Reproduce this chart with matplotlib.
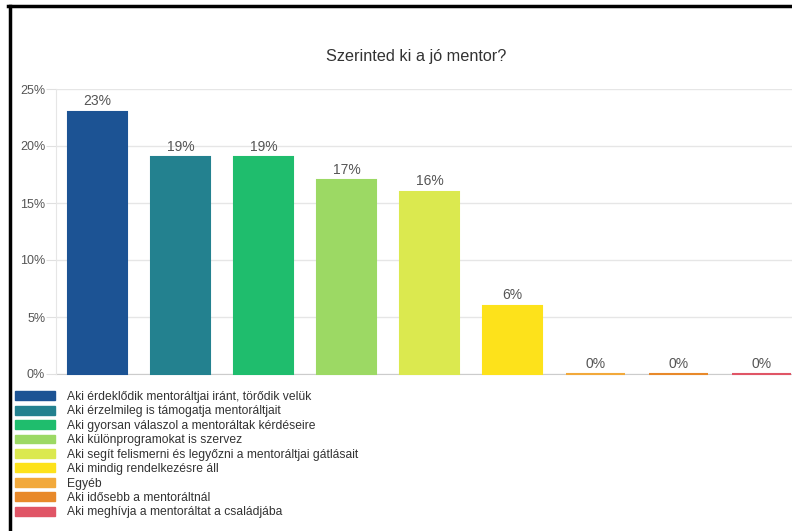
import matplotlib.pyplot as plt
from matplotlib.patches import Patch
from matplotlib.lines import Line2D

plt.rcParams["font.family"] = ["Liberation Sans", "DejaVu Sans"]

# Data
answers = [
    "Aki érdeklődik mentoráltjai iránt, törődik velük",
    "Aki érzelmileg is támogatja mentoráltjait",
    "Aki gyorsan válaszol a mentoráltak kérdéseire",
    "Aki különprogramokat is szervez",
    "Aki segít felismerni és legyőzni a mentoráltjai gátlásait",
    "Aki mindig rendelkezésre áll",
    "Egyéb",
    "Aki idősebb a mentoráltnál",
    "Aki meghívja a mentoráltat a családjába",
]
shares = [23, 19, 19, 17, 16, 6, 0, 0, 0]
colors = ["#1c5394", "#23818f", "#1fbd6d", "#9cd964", "#dbe94f",
          "#fde21b", "#f2a93b", "#e8892a", "#e05566"]
yticks = [0, 5, 10, 15, 20, 25]

fig = plt.figure(figsize=(7.92, 5.31), dpi=100)
# axes runs a bit past the right edge, like the cropped screenshot
ax = fig.add_axes([56 / 792, 157 / 531, 747 / 792, 285 / 531])

xs = range(len(shares))
bars = ax.bar(xs, shares, width=0.72, color=colors, edgecolor=colors,
              linewidth=1.5, zorder=4)
for b in bars:
    b.set_clip_on(False)

# value labels
for x, v in zip(xs, shares):
    ax.text(x, v + 0.3, f"{v}%", ha="center", va="bottom",
            fontsize=10, color="#555555", zorder=5)

ax.set_xlim(-0.5, len(shares) - 0.5)
ax.set_ylim(0, 25)
ax.set_yticks(yticks)
ax.set_yticklabels([f"{t}%" for t in yticks])
ax.set_xticks([])
ax.tick_params(axis="y", length=7.5, color="#e0e0e0", labelsize=9,
               labelcolor="#555555", pad=0.3)
ax.grid(axis="y", color="#e6e6e6", linewidth=1, zorder=0)

for side in ["top", "right"]:
    ax.spines[side].set_visible(False)
ax.spines["left"].set_color("#e6e6e6")
ax.spines["bottom"].set_color("#cccccc")
ax.spines["bottom"].set_zorder(1)

fig.text(416 / 792, 1 - 56 / 531, "Szerinted ki a jó mentor?", ha="center",
         va="center", fontsize=11.7, color="#333333")

# legend below the chart
handles = [Patch(facecolor=c, edgecolor=c) for c in colors]
fig.legend(handles, answers, loc="upper left",
           bbox_to_anchor=(15 / 792, 1 - 391 / 531), frameon=False,
           fontsize=8.7, handlelength=3.35, handleheight=0.75,
           labelspacing=0.2, handletextpad=0.95, borderpad=0, borderaxespad=0,
           labelcolor="#333333")

# screenshot border on top and left
fig.add_artist(Line2D([9.5 / 792, 9.5 / 792], [0, 1 - 6 / 531],
                      transform=fig.transFigure, color="black", linewidth=2.5))
fig.add_artist(Line2D([8 / 792, 1], [1 - 6 / 531, 1 - 6 / 531],
                      transform=fig.transFigure, color="black", linewidth=2.5))

fig.savefig("out.png", dpi=100)
